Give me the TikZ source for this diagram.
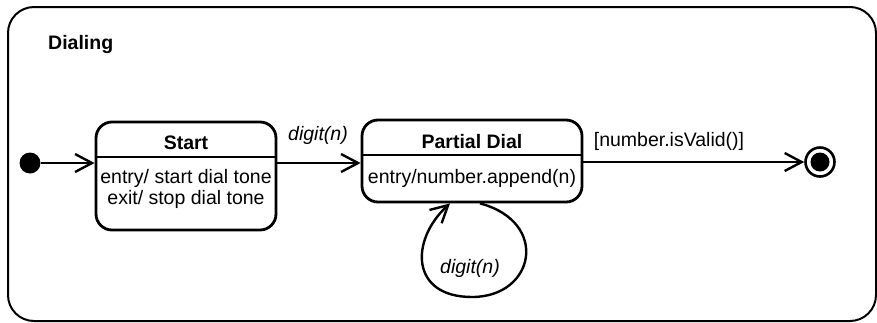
\documentclass[tikz,border=0pt]{standalone}
\usepackage{fontspec}
\setmainfont{Liberation Sans}
\usetikzlibrary{arrows.meta}
\begin{document}
\begin{tikzpicture}[x=1pt,y=-1pt,
  every node/.style={font=\fontsize{19.5}{22}\selectfont, inner sep=0pt},
  statebox/.style={draw, line width=2.8pt, rounded corners=16pt},
  compartment/.style={line width=1.6pt},
  arr/.style={line width=2.4pt, -{Straight Barb[length=17pt,width=18pt,line width=2.4pt]}},
  evt/.style={font=\fontsize{19.5}{22}\selectfont\itshape},
  ttl/.style={font=\fontsize{19.5}{22}\selectfont\bfseries}]
\useasboundingbox (0,0) rectangle (877,322);

% composite state frame
\draw[line width=2pt, rounded corners=26pt] (8,7) rectangle (876,321);
\node[ttl, anchor=west] (dialing) at (48,44) {Dialing};

% pseudo-states
\node[circle, fill, minimum size=21pt] (init) at (30,163) {};
\node[circle, draw, line width=2.6pt, minimum size=29pt] (final) at (820,162) {};
\node[circle, fill, minimum size=19pt] (finaldot) at (final) {};

% Start state
\node[statebox, minimum width=180pt, minimum height=108pt] (start) at (186,176) {};
\draw[compartment] (start.west |- 0,157) -- (start.east |- 0,157);
\node[ttl] (startname) at (186,143) {Start};
\node (startentry) at (186,178) {entry/ start dial tone};
\node (startexit) at (186,199) {exit/ stop dial tone};

% Partial Dial state
\node[statebox, minimum width=220pt, minimum height=82pt] (partial) at (472,161) {};
\draw[compartment] (partial.west |- 0,155) -- (partial.east |- 0,155);
\node[ttl] (partialname) at (472,142) {Partial Dial};
\node (partialentry) at (472,178) {entry/number.append(n)};

% transitions
\draw[arr] (init) -- (start.west |- init);
\draw[arr] (start.east |- init) -- (partial.west |- init);
\node[evt] (lbl1) at (318,135) {digit(n)};
\draw[arr] (partial.east |- final) -- (final);
\node (lbl2) at (669,141) {[number.isValid()]};
\draw[arr] ([xshift=8pt]partial.south) .. controls (550,222) and (535,297) .. (472,297)
  .. controls (410,297) and (410,240) .. ([xshift=-22pt]partial.south);
\node[evt] (lbl3) at (470,268) {digit(n)};
\end{tikzpicture}
\end{document}
